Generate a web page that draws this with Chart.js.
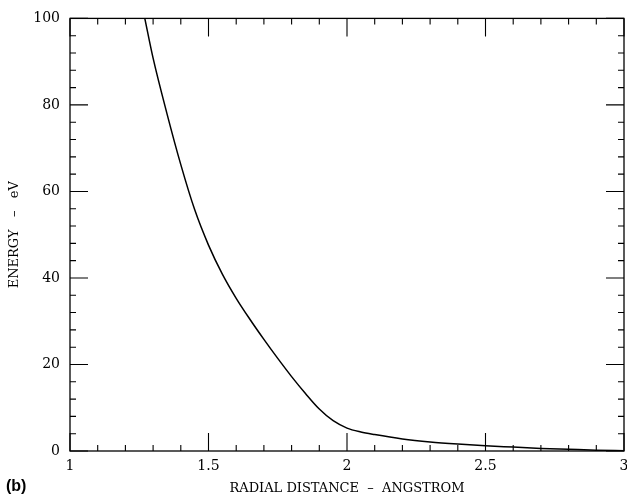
<!DOCTYPE html>
<html>
<head>
<meta charset="utf-8">
<script src="https://cdn.jsdelivr.net/npm/chart.js@4"></script>
<style>
  html, body { margin: 0; padding: 0; background: #fff; overflow: hidden; }
  canvas { display: block; }
</style>
</head>
<body>
<canvas id="graficoEnergia" width="627" height="497"></canvas>
<script>
// data
const radialDistance = [1.27, 1.30, 1.35, 1.40, 1.45, 1.50, 1.55, 1.60, 1.65, 1.70, 1.75, 1.80, 1.85, 1.90, 1.95, 2.00, 2.05, 2.10, 2.20, 2.30, 2.40, 2.50, 2.60, 2.70, 2.80, 2.90, 3.00];
const energy = [100, 90.8, 78.0, 66.2, 55.8, 47.6, 40.9, 35.3, 30.4, 25.8, 21.4, 17.2, 13.3, 9.7, 7.0, 5.3, 4.4, 3.8, 2.8, 2.1, 1.6, 1.2, 0.9, 0.6, 0.4, 0.2, 0.05];
const xTickLabels = ['1', '1.5', '2', '2.5', '3'];
const yTickLabels = ['0', '20', '40', '60', '80', '100'];

const serif = 'DejaVu Serif';

// ticks drawn inside the frame on all four sides, plus the frame itself
const frameTicks = {
  id: 'frameTicks',
  afterDraw(chart) {
    const c = chart.ctx, a = chart.chartArea;
    const xs = chart.scales.x, ys = chart.scales.y;
    c.save();
    c.strokeStyle = '#000';
    c.lineWidth = 1.3;
    c.strokeRect(a.left, a.top, a.right - a.left, a.bottom - a.top);
    c.lineWidth = 1.1;
    c.beginPath();
    xs.ticks.forEach(t => {
      let px = xs.getPixelForValue(t.value);
      let len = xTickLabels.includes(String(+t.value.toFixed(2))) ? 18 : 6;
      c.moveTo(px, a.bottom); c.lineTo(px, a.bottom - len);
      c.moveTo(px, a.top); c.lineTo(px, a.top + len);
    });
    ys.ticks.forEach(t => {
      let py = ys.getPixelForValue(t.value);
      let len = yTickLabels.includes(String(t.value)) ? 18 : 6;
      c.moveTo(a.left, py); c.lineTo(a.left + len, py);
      c.moveTo(a.right, py); c.lineTo(a.right - len, py);
    });
    c.stroke();
    // panel label
    c.fillStyle = '#000';
    c.font = 'bold 16px "Liberation Sans"';
    c.textBaseline = 'alphabetic';
    c.fillText('(b)', 6, 491);
    c.restore();
  }
};

let ctx = document.getElementById('graficoEnergia').getContext('2d');
new Chart(ctx, {
  type: 'line',
  data: {
    datasets: [{
      data: radialDistance.map((x, i) => ({ x: x, y: energy[i] })),
      borderColor: '#000',
      borderWidth: 1.5,
      pointRadius: 0,
      fill: false,
      cubicInterpolationMode: 'monotone'
    }]
  },
  options: {
    responsive: false,
    animation: false,
    devicePixelRatio: 1,
    layout: { padding: { top: 17, right: 3, left: 0, bottom: 0 } },
    plugins: { legend: { display: false }, tooltip: { enabled: false } },
    scales: {
      x: {
        type: 'linear', min: 1, max: 3,
        grid: { display: false, drawTicks: false },
        border: { display: false },
        afterFit: s => { s.height = 46; s.paddingRight = 0; s.paddingLeft = 0; },
        ticks: {
          stepSize: 0.1, autoSkip: false, maxRotation: 0, padding: 7,
          color: '#000', font: { family: serif, size: 14 },
          callback: v => {
            let s = String(+v.toFixed(2));
            return xTickLabels.includes(s) ? s : '';
          }
        },
        title: {
          display: true, text: 'RADIAL DISTANCE  –  ANGSTROM', color: '#000',
          font: { family: serif, size: 13 }, padding: { top: 2, bottom: 1 }
        }
      },
      y: {
        min: 0, max: 100,
        grid: { display: false, drawTicks: false },
        border: { display: false },
        afterFit: s => { s.width = 70; },
        ticks: {
          stepSize: 4, autoSkip: false, padding: 10,
          color: '#000', font: { family: serif, size: 14 },
          callback: v => yTickLabels.includes(String(v)) ? String(v) : ''
        },
        title: {
          display: true, text: 'ENERGY   –   eV', color: '#000',
          font: { family: serif, size: 13 }, padding: { top: 7, bottom: 0 }
        }
      }
    }
  },
  plugins: [frameTicks]
});
</script>
</body>
</html>
